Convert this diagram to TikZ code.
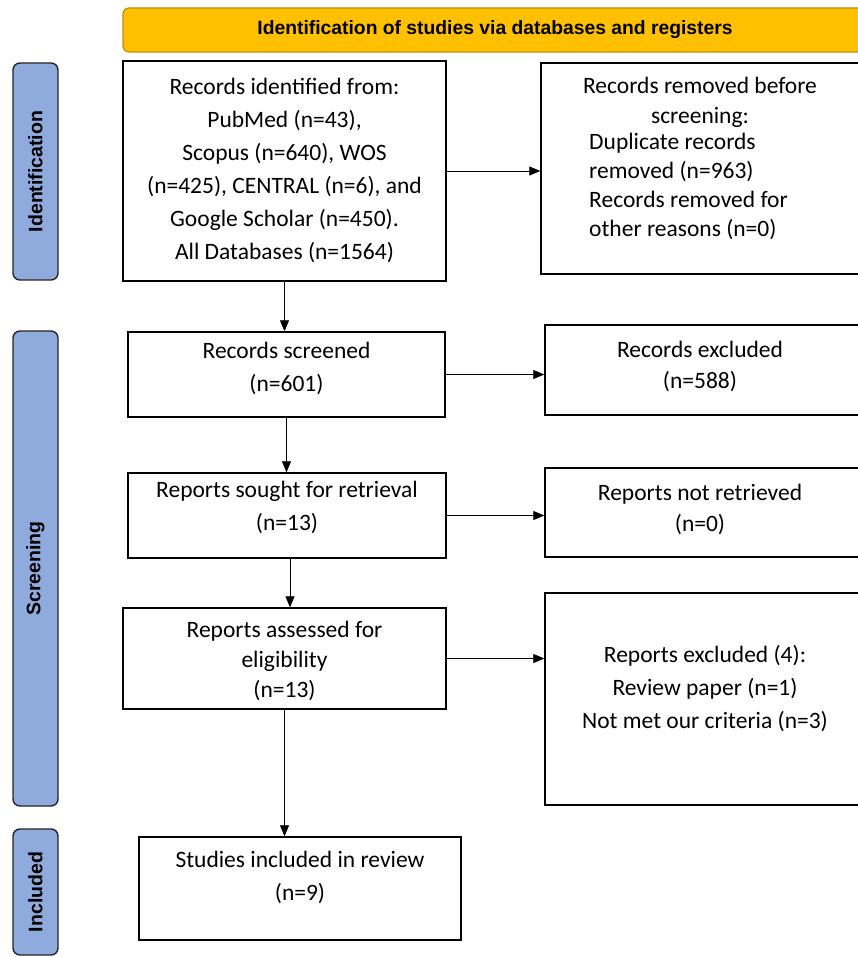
\documentclass[tikz,border=0pt]{standalone}
\usepackage{fontspec}
\setmainfont{Carlito}
\newfontfamily\hdrfont{Liberation Sans}
\usetikzlibrary{arrows.meta}
\definecolor{hdrfill}{HTML}{FFC000}
\definecolor{hdrdraw}{HTML}{BF9000}
\definecolor{sidefill}{HTML}{8FAADC}
\begin{document}
\begin{tikzpicture}[x=1pt,y=-1pt,
  box/.style={draw=black, line width=1.4pt, rectangle, inner sep=0pt},
  txt/.style={align=center, font=\fontsize{23.5}{33}\selectfont, inner sep=0pt},
  side/.style={draw=black!85, line width=1.4pt, fill=sidefill, rounded corners=7pt, inner sep=0pt, minimum width=45pt},
  sidetxt/.style={rotate=90, font=\hdrfont\bfseries\fontsize{19.5}{22}\selectfont},
  arr/.style={line width=0.8pt, -{Triangle[length=11pt,width=9pt]}}]
\useasboundingbox (0,0) rectangle (858,957);
\clip (0,0) rectangle (858,957);
\fill[white] (0,0) rectangle (858,957);
% header
\node[draw=hdrdraw, line width=1.2pt, fill=hdrfill, rounded corners=6pt, minimum width=752pt, minimum height=44pt] (hdr) at (499,30) {};
\node[font=\hdrfont\bfseries\fontsize{19.3}{21}\selectfont] (hdrt) at (495,30) {Identification of studies via databases and registers};
% side labels
\node[side, minimum height=217pt] (sid) at (35.5,171.5) {};
\node[sidetxt] (sidt) at (sid.center) {Identification};
\node[side, minimum height=475pt] (sscr) at (35.5,568.5) {};
\node[sidetxt] (sscrt) at (sscr.center) {Screening};
\node[side, minimum height=126pt] (sinc) at (35.5,892) {};
\node[sidetxt] (sinct) at (sinc.center) {Included};
% left boxes
\node[box, minimum width=323pt, minimum height=220pt] (ident) at (284.5,171) {};
\node[txt] (identt) at (284.5,170) {Records identified from:\\PubMed (n=43),\\Scopus (n=640), WOS\\(n=425), CENTRAL (n=6), and\\Google Scholar (n=450).\\All Databases (n=1564)};
\node[box, minimum width=317pt, minimum height=85pt] (scr) at (286.5,374.5) {};
\node[txt] (scrt) at (286.5,368) {Records screened\\(n=601)};
\node[box, minimum width=318pt, minimum height=85pt] (sou) at (287,515.5) {};
\node[txt] (sout) at (287,507) {Reports sought for retrieval\\(n=13)};
\node[box, minimum width=323pt, minimum height=101pt] (ass) at (284.5,658.5) {};
\node[txt, font=\fontsize{23.5}{30}\selectfont] (asst) at (284.5,661) {Reports assessed for\\eligibility\\(n=13)};
\node[box, minimum width=322pt, minimum height=103pt] (stu) at (300,888.5) {};
\node[txt] (stut) at (300,877) {Studies included in review\\(n=9)};
% right boxes
\node[box, minimum width=319pt, minimum height=211pt] (rem) at (700.5,168.5) {};
\node[txt, font=\fontsize{23.5}{30}\selectfont] (remt) at (700,102) {Records removed before\\screening:};
\node[txt, align=left, anchor=north west, font=\fontsize{23.5}{29}\selectfont] (remt2) at (589,133) {Duplicate records\\removed (n=963)\\Records removed for\\other reasons (n=0)};
\node[box, minimum width=315pt, minimum height=90pt] (exc) at (702.5,370) {};
\node[txt, font=\fontsize{23.5}{31}\selectfont] (exct) at (700,366) {Records excluded\\(n=588)};
\node[box, minimum width=315pt, minimum height=89pt] (nret) at (702.5,512.5) {};
\node[txt, font=\fontsize{23.5}{31}\selectfont] (nrett) at (700,509) {Reports not retrieved\\(n=0)};
\node[box, minimum width=315pt, minimum height=212pt] (rexc) at (702.5,699) {};
\node[txt] (rexct) at (705,689) {Reports excluded (4):\\Review paper (n=1)\\Not met our criteria (n=3)};
% connectors
\draw[arr] (ident.east) -- (ident.east -| rem.west);
\draw[arr] (ident.south) -- (ident.south |- scr.north);
\draw[arr] (scr.east) -- (scr.east -| exc.west);
\draw[arr] (scr.south) -- (scr.south |- sou.north);
\draw[arr] (sou.east) -- (sou.east -| nret.west);
\draw[arr] ([xshift=3pt]sou.south) -- ([xshift=3pt]sou.south |- ass.north);
\draw[arr] (ass.east) -- (ass.east -| rexc.west);
\draw[arr] (ass.south) -- (ass.south |- stu.north);
\end{tikzpicture}
\end{document}
